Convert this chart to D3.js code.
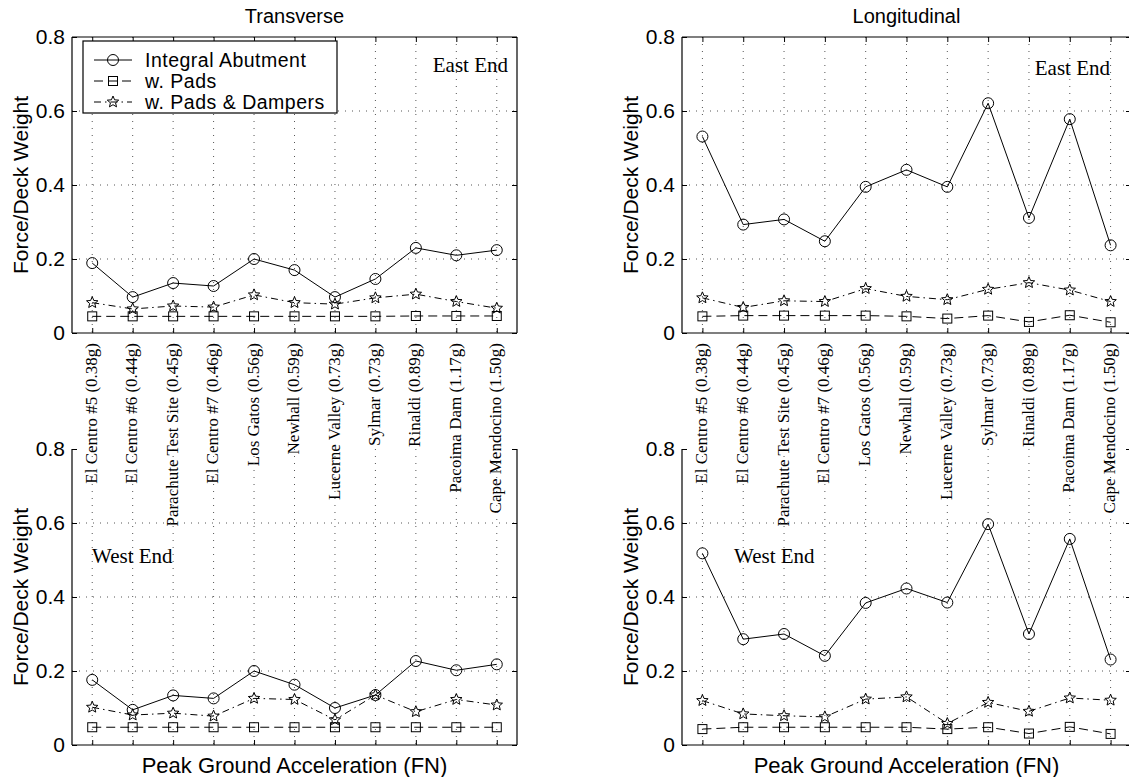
<!DOCTYPE html>
<html><head><meta charset="utf-8">
<script src="https://cdn.jsdelivr.net/npm/d3@7"></script>
<style>body{margin:0;background:#fff}svg{display:block}</style>
</head><body>
<svg id="c" width="1129" height="777"></svg>
<script>
const categories = ["El Centro #5 (0.38g)","El Centro #6 (0.44g)","Parachute Test Site (0.45g)","El Centro #7 (0.46g)","Los Gatos (0.56g)","Newhall (0.59g)","Lucerne Valley (0.73g)","Sylmar (0.73g)","Rinaldi (0.89g)","Pacoima Dam (1.17g)","Cape Mendocino (1.50g)"];
const yTicks = [0, 0.2, 0.4, 0.6, 0.8];
const seriesNames = ["Integral Abutment","w. Pads","w. Pads & Dampers"];
const panelTitles = ["Transverse","Longitudinal"];
const xAxisTitle = "Peak Ground Acceleration (FN)";
const yAxisTitle = "Force/Deck Weight";

// Transverse, East End
const teIntegral = [0.189,0.097,0.135,0.127,0.200,0.170,0.097,0.146,0.230,0.210,0.224];
const tePads     = [0.045,0.045,0.045,0.045,0.045,0.045,0.045,0.045,0.046,0.046,0.046];
const teDampers  = [0.082,0.065,0.073,0.070,0.103,0.082,0.078,0.095,0.105,0.085,0.067];
// Longitudinal, East End
const leIntegral = [0.531,0.293,0.307,0.248,0.395,0.441,0.395,0.621,0.311,0.578,0.237];
const lePads     = [0.045,0.047,0.047,0.047,0.047,0.045,0.039,0.047,0.030,0.048,0.029];
const leDampers  = [0.095,0.069,0.087,0.085,0.120,0.099,0.090,0.118,0.136,0.116,0.085];
// Transverse, West End
const twIntegral = [0.176,0.095,0.134,0.126,0.200,0.163,0.100,0.135,0.227,0.202,0.218];
const twPads     = [0.048,0.048,0.048,0.048,0.048,0.048,0.048,0.048,0.048,0.048,0.048];
const twDampers  = [0.102,0.081,0.086,0.078,0.126,0.123,0.068,0.135,0.090,0.123,0.108];
// Longitudinal, West End
const lwIntegral = [0.518,0.286,0.300,0.241,0.384,0.423,0.385,0.597,0.300,0.557,0.231];
const lwPads     = [0.043,0.048,0.048,0.048,0.048,0.048,0.043,0.048,0.031,0.049,0.030];
const lwDampers  = [0.120,0.084,0.079,0.076,0.124,0.130,0.058,0.115,0.091,0.127,0.121];

const panels = [
  {l:72, r:517, t:37, b:333, title:panelTitles[0], tag:"East End", tagX:508, tagY:72, series:[teIntegral,tePads,teDampers], labels:true, top:true},
  {l:682, r:1131, t:37, b:333, title:panelTitles[1], tag:"East End", tagX:1110, tagY:75, series:[leIntegral,lePads,leDampers], labels:true, top:true},
  {l:72, r:517, t:449, b:745, title:null, tag:"West End", tagX:92, tagY:563, series:[twIntegral,twPads,twDampers], xtitle:true, top:false},
  {l:682, r:1131, t:449, b:745, title:null, tag:"West End", tagX:734, tagY:563, series:[lwIntegral,lwPads,lwDampers], xtitle:true, top:false}
];

const svg = d3.select("#c");
const SANS = "'Liberation Sans', Arial, sans-serif";
const SERIF = "'Liberation Serif', 'Times New Roman', serif";
const styles = [
  {dash:null, marker:"circle"},
  {dash:"9,5", marker:"square"},
  {dash:"7,4,1.5,4", marker:"star"}
];

function starPath(r){
  const pts=[]; const ri=r*0.45;
  for(let i=0;i<10;i++){const a=-Math.PI/2+i*Math.PI/5; const rr=i%2?ri:r; pts.push([rr*Math.cos(a), rr*Math.sin(a)]);}
  return "M"+pts.map(p=>p[0].toFixed(2)+","+p[1].toFixed(2)).join("L")+"Z";
}
function drawMarker(g, type, x, y){
  if(type==="circle") g.append("circle").attr("cx",x).attr("cy",y).attr("r",5.5).attr("fill","none").attr("stroke","#000").attr("stroke-width",1);
  else if(type==="square") g.append("rect").attr("x",x-4.5).attr("y",y-4.5).attr("width",9).attr("height",9).attr("fill","none").attr("stroke","#000").attr("stroke-width",1);
  else g.append("path").attr("d",starPath(6)).attr("transform",`translate(${x},${y})`).attr("fill","none").attr("stroke","#000").attr("stroke-width",1);
}

panels.forEach(p=>{
  const x = d3.scalePoint().domain(categories).range([p.l,p.r]).padding(0.5);
  const y = d3.scaleLinear().domain([0,0.8]).range([p.b,p.t]);
  const g = svg.append("g");
  // grid
  const grid = g.append("g").attr("stroke","#555").attr("stroke-width",1).attr("stroke-dasharray","1,6");
  yTicks.filter(v=>v>0 && v<0.8).forEach(v=>grid.append("line").attr("x1",p.l).attr("x2",p.r).attr("y1",y(v)).attr("y2",y(v)));
  categories.forEach(c=>grid.append("line").attr("x1",x(c)).attr("x2",x(c)).attr("y1",p.t).attr("y2",p.b));
  // axes
  const yl = g.append("g").attr("transform",`translate(${p.l},0)`).call(d3.axisLeft(y).tickValues(yTicks).tickSize(-5).tickPadding(7).tickFormat(d=>d===0?"0":d3.format(".1f")(d)));
  const yr = g.append("g").attr("transform",`translate(${p.r},0)`).call(d3.axisRight(y).tickValues(yTicks).tickSize(-5).tickFormat(""));
  const xb = g.append("g").attr("transform",`translate(0,${p.b})`).call(d3.axisBottom(x).tickSize(-5).tickFormat(""));
  const axes = [yl,yr,xb];
  if(p.top){ axes.push(g.append("g").attr("transform",`translate(0,${p.t})`).call(d3.axisTop(x).tickSize(-5).tickFormat(""))); }
  axes.forEach(a=>{a.select(".domain").remove(); a.selectAll("line").attr("stroke","#000");});
  yl.attr("font-family",SANS).attr("font-size",21);
  yl.selectAll("text").attr("fill","#000");
  // frame
  const frame = g.append("g").attr("stroke","#000").attr("stroke-width",1.2);
  frame.append("line").attr("x1",p.l).attr("x2",p.l).attr("y1",p.t).attr("y2",p.b);
  frame.append("line").attr("x1",p.r).attr("x2",p.r).attr("y1",p.t).attr("y2",p.b);
  frame.append("line").attr("x1",p.l).attr("x2",p.r).attr("y1",p.b).attr("y2",p.b);
  if(p.top) frame.append("line").attr("x1",p.l).attr("x2",p.r).attr("y1",p.t).attr("y2",p.t);
  // y title
  g.append("text").attr("transform",`translate(${p.l-44},${(p.t+p.b)/2}) rotate(-90)`).attr("text-anchor","middle")
    .attr("font-family",SANS).attr("font-size",21).text(yAxisTitle);
  if(p.title) g.append("text").attr("x",(p.l+p.r)/2).attr("y",23).attr("text-anchor","middle").attr("font-family",SANS).attr("font-size",20).text(p.title);
  if(p.xtitle) g.append("text").attr("x",(p.l+p.r)/2).attr("y",773).attr("text-anchor","middle").attr("font-family",SANS).attr("font-size",22).text(xAxisTitle);
  // tag
  g.append("text").attr("x",p.tagX).attr("y",p.tagY).attr("text-anchor",p.tag==="East End"?"end":"start").attr("font-family",SERIF).attr("font-size",21).text(p.tag);
  // category labels
  if(p.labels){
    categories.forEach(c=>{
      g.append("text").attr("transform",`translate(${x(c)-1},${p.b+10}) rotate(-90)`).attr("text-anchor","end").attr("dy","0.33em")
        .attr("font-family",SERIF).attr("font-size",17)
        .attr("stroke","#fff").attr("stroke-width",3).attr("paint-order","stroke").text(c);
    });
  }
  // series
  const line = d3.line().x((d,i)=>x(categories[i])).y(d=>y(d));
  p.series.forEach((vals,si)=>{
    const st = styles[si];
    g.append("path").attr("d",line(vals)).attr("fill","none").attr("stroke","#000").attr("stroke-width",1)
      .attr("stroke-dasharray",st.dash);
    const mg = g.append("g");
    vals.forEach((v,i)=>drawMarker(mg, st.marker, x(categories[i]), y(v)));
  });
});

// legend (top-left panel)
const lg = svg.append("g");
lg.append("rect").attr("x",83).attr("y",41).attr("width",254).attr("height",72).attr("fill","#fff").attr("stroke","#000").attr("stroke-width",1.2);
seriesNames.forEach((n,i)=>{
  const yy = 60 + i*21;
  lg.append("line").attr("x1",94).attr("x2",132).attr("y1",yy).attr("y2",yy).attr("stroke","#000").attr("stroke-width",1).attr("stroke-dasharray",styles[i].dash);
  drawMarker(lg, styles[i].marker, 113, yy);
  lg.append("text").attr("x",145).attr("y",yy+7).attr("font-family",SANS).attr("font-size",19.5).attr("letter-spacing",0.5).text(n);
});
</script>
</body></html>
